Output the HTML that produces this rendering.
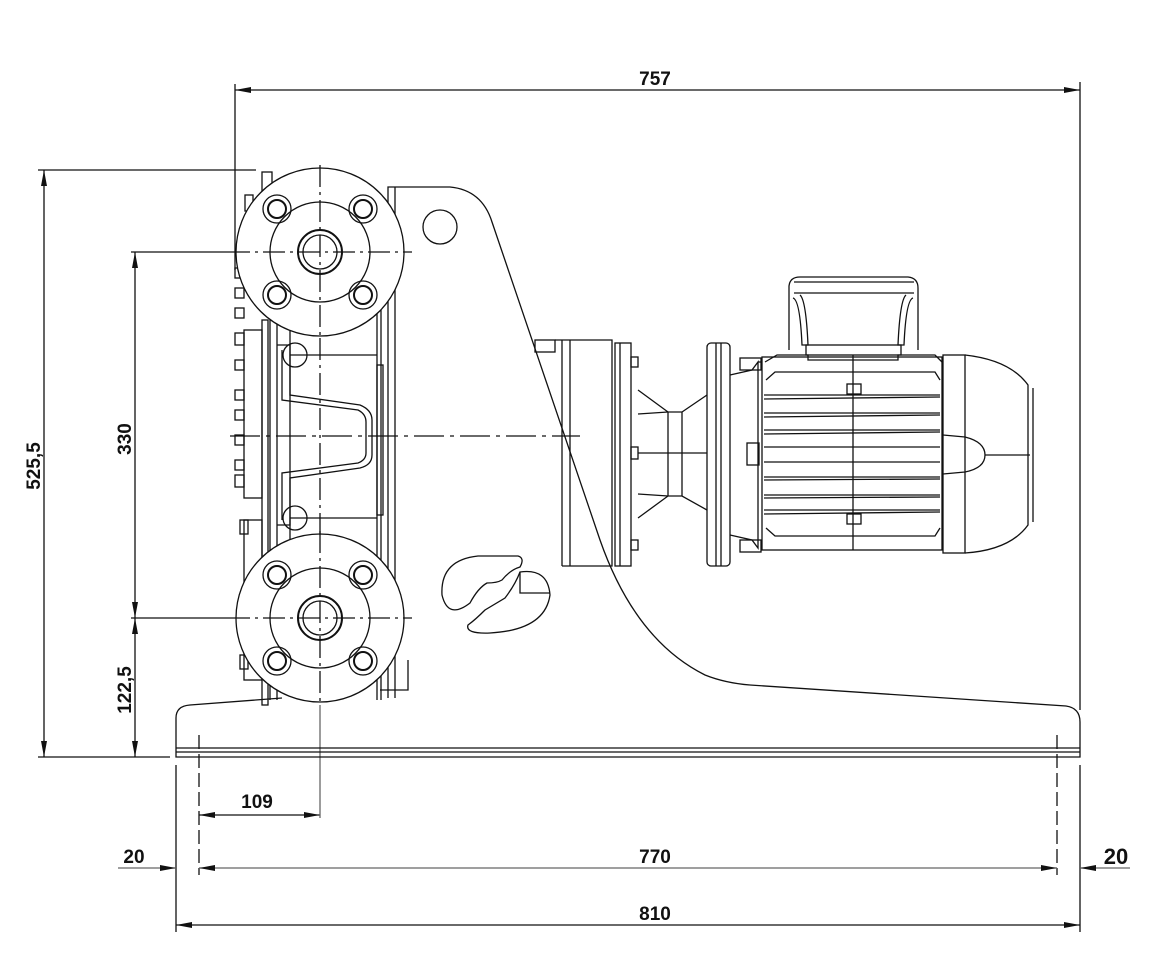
<!DOCTYPE html>
<html><head><meta charset="utf-8"><style>
html,body{margin:0;padding:0;background:#fff;}
svg{display:block;}
text{font-family:"Liberation Sans",Arial,sans-serif;font-weight:bold;font-size:19px;fill:#111;}
</style></head><body>
<svg width="1156" height="967" viewBox="0 0 1156 967" xmlns="http://www.w3.org/2000/svg">
<defs>
<marker id="a" viewBox="0 0 16 6" refX="16" refY="3" markerWidth="16" markerHeight="6" orient="auto-start-reverse" markerUnits="userSpaceOnUse"><path d="M0,0 L16,3 L0,6 z" fill="#111"/></marker>
</defs>
<g stroke="#111" stroke-width="1.3" fill="none">
<line x1="235" y1="90" x2="1080" y2="90" marker-start="url(#a)" marker-end="url(#a)"/>
<line x1="235" y1="84" x2="235" y2="270"/>
<line x1="1080" y1="82" x2="1080" y2="710"/>
<line x1="44" y1="170" x2="44" y2="757" marker-start="url(#a)" marker-end="url(#a)"/>
<line x1="38" y1="170" x2="256" y2="170"/>
<line x1="38" y1="757" x2="170" y2="757"/>
<line x1="135" y1="252" x2="135" y2="618" marker-start="url(#a)" marker-end="url(#a)"/>
<line x1="135" y1="618" x2="135" y2="757" marker-start="url(#a)" marker-end="url(#a)"/>
<line x1="131" y1="252" x2="228" y2="252"/>
<line x1="131" y1="618" x2="228" y2="618"/>
<line x1="199" y1="815" x2="320" y2="815" marker-start="url(#a)" marker-end="url(#a)"/>
<line x1="320" y1="705" x2="320" y2="818" stroke="#666"/>
<line x1="199" y1="735" x2="199" y2="875" stroke-dasharray="14,5"/>
<line x1="1057" y1="735" x2="1057" y2="875" stroke-dasharray="14,5"/>
<line x1="176" y1="765" x2="176" y2="932"/>
<line x1="1080" y1="765" x2="1080" y2="932"/>
<line x1="118" y1="868" x2="176" y2="868" stroke="#666" marker-end="url(#a)"/>
<line x1="199" y1="868" x2="1057" y2="868" stroke="#666" marker-start="url(#a)" marker-end="url(#a)"/>
<line x1="1130" y1="868" x2="1080" y2="868" stroke="#666" marker-end="url(#a)"/>
<line x1="176" y1="925" x2="1080" y2="925" marker-start="url(#a)" marker-end="url(#a)"/>

<path d="M282,698 L190,705 Q176,706 176,718 L176,757 L1080,757 L1080,722 Q1080,708 1066,706 L750,685"/>
<line x1="176" y1="748" x2="1080" y2="748"/>
<line x1="176" y1="752" x2="1080" y2="752"/>
<path d="M388,698 L388,187 L450,187 Q482,190 492,222 L600,540 Q635,640 705,675 Q725,683 750,685"/>
<line x1="395" y1="187" x2="395" y2="698"/>
<circle cx="440" cy="227" r="17"/>
<path d="M408,660 L408,690 L380,690" />
<path d="M478,556 Q440,560 442,595 Q448,620 470,603 Q478,588 487,583 Q497,583 502,580 Q510,570 520,567 Q525,558 518,556 Z"/>
<path d="M520,572 Q548,568 550,595 Q545,630 490,633 Q465,634 468,625 Q475,620 485,610 Q495,604 505,598 Q515,585 520,572 Z"/>
<path d="M520,572 L520,593 L550,593"/>

<rect x="262" y="320" width="6" height="385"/>
<rect x="244" y="330" width="18" height="168"/>
<rect x="244" y="520" width="18" height="160"/>
<line x1="270" y1="320" x2="270" y2="700"/>
<line x1="277" y1="320" x2="277" y2="700"/>
<line x1="377" y1="310" x2="377" y2="700"/>
<line x1="381" y1="310" x2="381" y2="700"/>
<rect x="377" y="365" width="6" height="150"/>
<line x1="290" y1="355" x2="377" y2="355"/>
<line x1="290" y1="518" x2="377" y2="518"/>
<line x1="290" y1="330" x2="290" y2="545"/>
<path d="M277,345 L290,345 L290,395 L360,405 Q372,410 372,420 L372,455 Q372,465 360,468 L290,478 L290,525 L277,525"/>
<path d="M282,350 L282,400 L358,410 Q366,414 366,422 L366,453 Q366,460 358,463 L282,473 L282,520"/>
<circle cx="295" cy="355" r="12"/>
<circle cx="295" cy="518" r="12"/>
<g>
<rect x="235" y="268" width="9" height="10"/><rect x="235" y="288" width="9" height="10"/>
<rect x="235" y="308" width="9" height="10"/><rect x="235" y="333" width="9" height="12"/>
<rect x="235" y="360" width="9" height="10"/><rect x="235" y="390" width="9" height="10"/>
<rect x="235" y="410" width="9" height="10"/><rect x="235" y="435" width="9" height="10"/>
<rect x="235" y="460" width="9" height="10"/><rect x="235" y="475" width="9" height="12"/>
<rect x="240" y="520" width="8" height="14"/><rect x="240" y="655" width="8" height="14"/>
<rect x="245" y="195" width="8" height="16"/><rect x="262" y="172" width="10" height="20"/>
</g>
<g id="fl">
<circle cx="320" cy="252" r="84" fill="#fff"/>
<circle cx="320" cy="252" r="50"/>
<circle cx="320" cy="252" r="22" stroke-width="2"/>
<circle cx="320" cy="252" r="17"/>
<circle cx="277" cy="209" r="14"/><circle cx="277" cy="209" r="9" stroke-width="2"/>
<circle cx="363" cy="209" r="14"/><circle cx="363" cy="209" r="9" stroke-width="2"/>
<circle cx="277" cy="295" r="14"/><circle cx="277" cy="295" r="9" stroke-width="2"/>
<circle cx="363" cy="295" r="14"/><circle cx="363" cy="295" r="9" stroke-width="2"/>
<line x1="228" y1="252" x2="412" y2="252" stroke-dasharray="22,5,3,5"/>
<line x1="320" y1="165" x2="320" y2="338" stroke-dasharray="22,5,3,5"/>
</g>
<use href="#fl" y="366"/>
<line x1="320" y1="338" x2="320" y2="536" stroke-dasharray="22,5,3,5"/>
<line x1="230" y1="436" x2="580" y2="436" stroke-dasharray="30,6,4,6"/>

<path d="M555,340 L612,340 L612,566 L562,566"/>
<line x1="562" y1="340" x2="562" y2="566"/>
<line x1="570" y1="340" x2="570" y2="566"/>
<rect x="535" y="340" width="20" height="12"/>
<rect x="615" y="343" width="16" height="223"/>
<line x1="620" y1="343" x2="620" y2="566"/>
<rect x="631" y="357" width="7" height="10"/><rect x="631" y="447" width="7" height="12"/><rect x="631" y="540" width="7" height="10"/>
<path d="M638,390 L668,412 L682,412 L707,395"/>
<path d="M638,518 L668,496 L682,496 L707,510"/>
<line x1="638" y1="414" x2="668" y2="412"/><line x1="638" y1="494" x2="668" y2="496"/>
<line x1="668" y1="412" x2="668" y2="496"/><line x1="682" y1="412" x2="682" y2="496"/>
<line x1="638" y1="453" x2="707" y2="453"/>
<rect x="707" y="343" width="23" height="223" rx="4"/>
<line x1="716" y1="343" x2="716" y2="566"/><line x1="721" y1="343" x2="721" y2="566"/>
<path d="M730,375 L752,370 L758,362 L758,548 L752,540 L730,535"/>
<rect x="740" y="358" width="21" height="12"/><rect x="740" y="540" width="21" height="12"/>
<rect x="747" y="443" width="12" height="22"/>
<line x1="758" y1="362" x2="762" y2="362"/>
<rect x="762" y="357" width="180" height="193"/>
<path d="M765,362 L777,355 L808,355 L808,360 L898,360 L898,355 L935,355 L942,362"/>
<path d="M766,380 L775,372 L935,372 L940,380"/>
<path d="M766,528 L775,536 L935,536 L940,528"/>
<g>
<line x1="764" y1="395" x2="940" y2="395"/><line x1="764" y1="399" x2="940" y2="397"/>
<line x1="764" y1="413" x2="940" y2="413"/><line x1="764" y1="417" x2="940" y2="415"/>
<line x1="764" y1="430" x2="940" y2="430"/><line x1="764" y1="434" x2="940" y2="432"/>
<line x1="764" y1="447" x2="940" y2="447"/><line x1="764" y1="462" x2="940" y2="462"/>
<line x1="764" y1="477" x2="940" y2="477"/><line x1="764" y1="480" x2="940" y2="479"/>
<line x1="764" y1="495" x2="940" y2="495"/><line x1="764" y1="498" x2="940" y2="497"/>
<line x1="764" y1="510" x2="940" y2="510"/><line x1="764" y1="514" x2="940" y2="512"/>
</g>
<line x1="853" y1="355" x2="853" y2="550"/>
<rect x="847" y="384" width="14" height="10"/><rect x="847" y="514" width="14" height="10"/>
<path d="M789,350 L789,286 Q790,277 800,277 L908,277 Q918,278 918,288 L918,350"/>
<line x1="794" y1="282" x2="914" y2="282"/>
<line x1="794" y1="293" x2="914" y2="293"/>
<path d="M793,298 Q800,300 802,345 L808,345 Q806,300 800,295"/>
<path d="M913,298 Q906,300 904,345 L898,345 Q900,300 906,295"/>
<rect x="806" y="345" width="95" height="10"/>
<rect x="943" y="355" width="22" height="198"/>
<path d="M965,355 Q1010,360 1028,385 L1028,525 Q1010,550 965,553"/>
<line x1="1033" y1="388" x2="1033" y2="522"/>
<path d="M943,435 L965,437 Q985,442 985,455 Q985,468 965,472 L943,474"/>
<line x1="985" y1="455" x2="1030" y2="455"/>
</g>
<text x="655" y="85" text-anchor="middle">757</text>
<text x="257" y="808" text-anchor="middle">109</text>
<text x="134" y="863" text-anchor="middle">20</text>
<text x="655" y="863" text-anchor="middle">770</text>
<text x="1116" y="864" text-anchor="middle" style="font-size:22px">20</text>
<text x="655" y="920" text-anchor="middle">810</text>
<text transform="translate(40,466) rotate(-90)" text-anchor="middle">525,5</text>
<text transform="translate(131,439) rotate(-90)" text-anchor="middle">330</text>
<text transform="translate(131,690) rotate(-90)" text-anchor="middle">122,5</text>
</svg>
</body></html>
